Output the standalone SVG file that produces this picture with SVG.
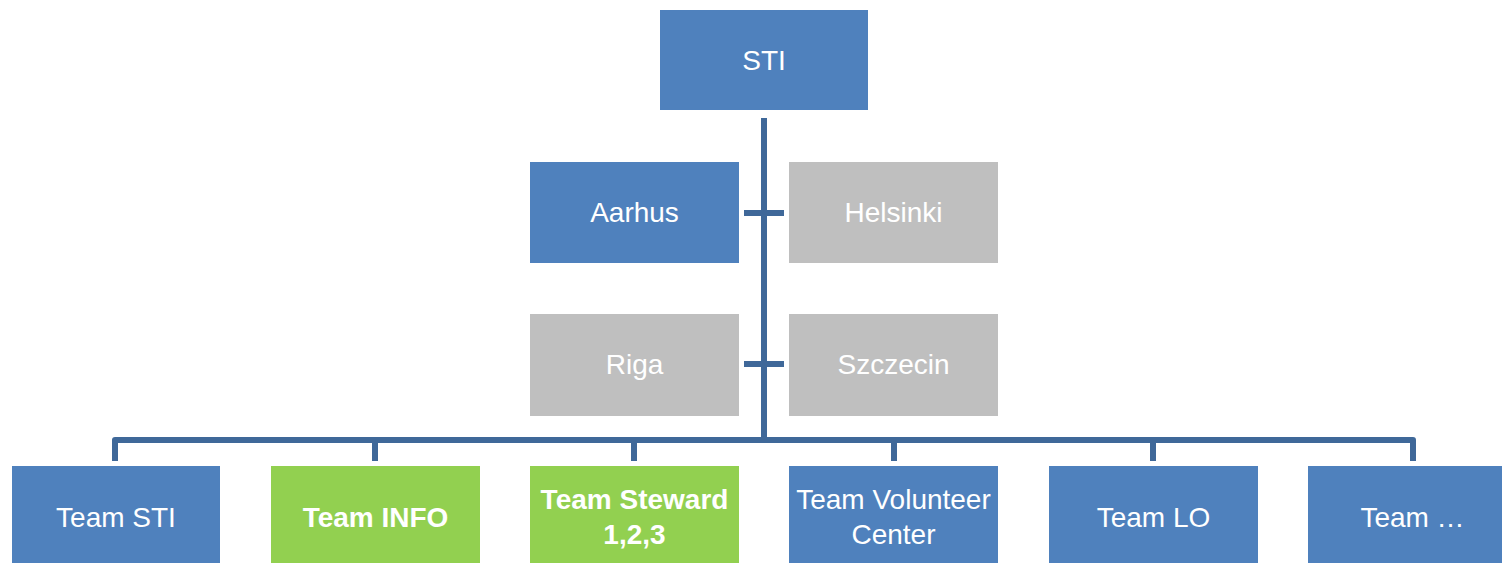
<svg xmlns="http://www.w3.org/2000/svg" width="1502" height="563" viewBox="0 0 1502 563">
<style>
.blue{fill:#4F81BD}
.gray{fill:#BFBFBF}
.green{fill:#92D050}
.t{font-family:"Liberation Sans",Arial,sans-serif;font-size:28px;fill:#FFFFFF;text-anchor:middle}
.b{font-weight:bold}
.c{fill:none;stroke:#3F6899;stroke-width:6;stroke-linejoin:round}
</style>
<rect width="1502" height="563" fill="#FFFFFF"/>
<g id="connectors">
<path class="c" d="M764 118 V440"/>
<path class="c" d="M744 213 H784"/>
<path class="c" d="M744 364 H784"/>
<path class="c" d="M115 461 V440 H1413 V461"/>
<path class="c" d="M375 440 V461 M634 440 V461 M894 440 V461 M1153 440 V461"/>
</g>
<g id="n-sti"><rect class="blue" x="660" y="10" width="208" height="100"/><text class="t" x="764" y="70">STI</text></g>
<g id="n-aarhus"><rect class="blue" x="530" y="162" width="209" height="101"/><text class="t" x="634.5" y="222">Aarhus</text></g>
<g id="n-helsinki"><rect class="gray" x="789" y="162" width="209" height="101"/><text class="t" x="893.5" y="222">Helsinki</text></g>
<g id="n-riga"><rect class="gray" x="530" y="314" width="209" height="102"/><text class="t" x="634.5" y="374">Riga</text></g>
<g id="n-szczecin"><rect class="gray" x="789" y="314" width="209" height="102"/><text class="t" x="893.5" y="374">Szczecin</text></g>
<g id="n-team-sti"><rect class="blue" x="12" y="466" width="208" height="102"/><text class="t" x="116" y="527">Team STI</text></g>
<g id="n-team-info"><rect class="green" x="271" y="466" width="209" height="102"/><text class="t b" x="375.5" y="527">Team INFO</text></g>
<g id="n-team-steward"><rect class="green" x="530" y="466" width="209" height="102"/><text class="t b" x="634.5" y="509">Team Steward</text><text class="t b" x="634.5" y="544">1,2,3</text></g>
<g id="n-team-volunteer"><rect class="blue" x="789" y="466" width="209" height="102"/><text class="t" x="893.5" y="509">Team Volunteer</text><text class="t" x="893.5" y="544">Center</text></g>
<g id="n-team-lo"><rect class="blue" x="1049" y="466" width="209" height="102"/><text class="t" x="1153.5" y="527">Team LO</text></g>
<g id="n-team-more"><rect class="blue" x="1308" y="466" width="209" height="102"/><text class="t" x="1412.5" y="527">Team …</text></g>
</svg>
